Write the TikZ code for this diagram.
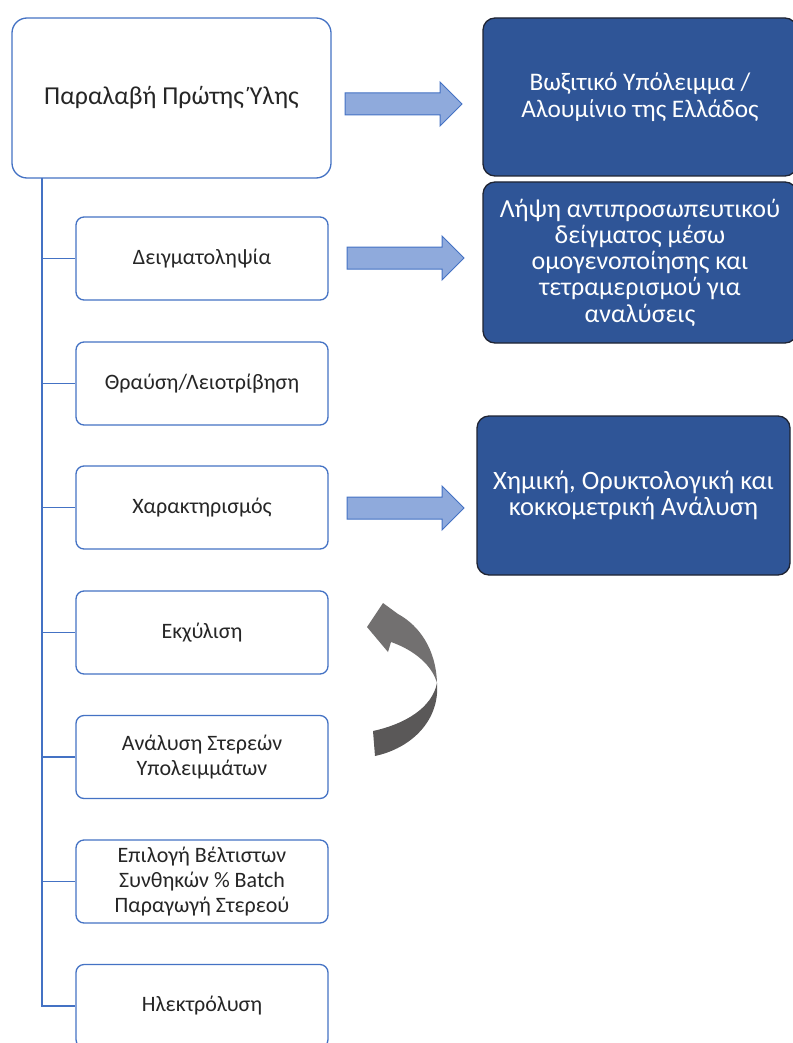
\documentclass[tikz,border=0pt]{standalone}
\usepackage{fontspec}
\setmainfont{Carlito}
\usetikzlibrary{calc}
\definecolor{accblue}{HTML}{4472C4}
\definecolor{arrfill}{HTML}{8FAADC}
\definecolor{darkbox}{HTML}{2F5597}
\definecolor{darkedge}{HTML}{1F2433}
\definecolor{txt}{HTML}{262626}
\definecolor{curvedark}{HTML}{5A5858}
\definecolor{curvelight}{HTML}{727070}
\tikzset{
  mainbox/.style={draw=accblue, line width=1.3pt, fill=white, rounded corners=15pt,
    minimum width=319pt, minimum height=160pt, align=center, text=txt,
    font=\fontsize{25.8}{30}\selectfont, inner sep=0pt},
  childbox/.style={draw=accblue, line width=1.3pt, fill=white, rounded corners=8pt,
    minimum width=252pt, minimum height=83pt, align=center, text=txt,
    font=\fontsize{22}{25}\selectfont, inner sep=0pt},
  darkbox/.style={draw=darkedge, line width=1.3pt, fill=darkbox, rounded corners=12pt,
    align=center, text=white, font=\fontsize{26}{26.3}\selectfont, inner sep=0pt},
  tree/.style={draw=accblue, line width=1.8pt},
  blockarr/.style={draw=accblue, line width=1pt, fill=arrfill, line join=miter},
}
\newcommand{\blockarrow}[2]{%
  \path[blockarr] (#1,#2-11) -- (#1+95,#2-11) -- (#1+95,#2-22) -- (#1+117,#2)
    -- (#1+95,#2+22) -- (#1+95,#2+11) -- (#1,#2+11) -- cycle;}
\begin{document}
\begin{tikzpicture}[x=1pt,y=-1pt]
\useasboundingbox (0,0) rectangle (792,1043);
\fill[white] (0,0) rectangle (792,1043);

% tree trunk
\coordinate (trunktop) at (42,178);
\coordinate (trunkbot) at (42,1007);

\node[mainbox] (main) at (171.5,98) {Παραλαβή Πρώτης Ύλης};

\node[childbox] (c1) at (202,258.5) {Δειγματοληψία};
\node[childbox] (c2) at (202,383.5) {Θραύση/Λειοτρίβηση};
\node[childbox] (c3) at (202,507.5) {Χαρακτηρισμός};
\node[childbox] (c4) at (202,632.5) {Εκχύλιση};
\node[childbox] (c5) at (202,757) {Ανάλυση Στερεών\\Υπολειμμάτων};
\node[childbox] (c6) at (202,881.5) {Επιλογή Βέλτιστων\\Συνθηκών \% Batch\\Παραγωγή Στερεού};
\node[childbox] (c7) at (202,1006) {Ηλεκτρόλυση};

\draw[tree] (trunktop) -- (trunkbot);
\foreach \c in {c1,c2,c3,c4,c5,c6,c7}{
  \draw[tree] (\c.west -| trunktop) -- (\c.west);
}

\node[darkbox, minimum width=314pt, minimum height=158pt,
  font=\fontsize{25.3}{27}\selectfont] (r1) at (640,97)
  {Βωξιτικό Υπόλειμμα /\\Αλουμίνιο της Ελλάδος};
\node[darkbox, minimum width=314pt, minimum height=161pt] (r2) at (640,262.5)
  {Λήψη αντιπροσωπευτικού\\δείγματος μέσω\\ομογενοποίησης και\\τετραμερισμού για\\αναλύσεις};
\node[darkbox, minimum width=313pt, minimum height=159pt,
  font=\fontsize{26.5}{25.5}\selectfont] (r3) at (633.5,495.5)
  {Χημική, Ορυκτολογική και\\κοκκομετρική Ανάλυση};

\blockarrow{345}{104}
\blockarrow{347}{258}
\blockarrow{347}{508}

% curved arrow
\fill[curvedark] (437,683) .. controls (440,720) and (412,748) .. (375,756)
  -- (373,731) .. controls (405,724) and (432,708) .. (437,683) -- cycle;
\fill[curvelight] (437,683) .. controls (436,650) and (420,626) .. (398,614)
  -- (383,603) -- (367,627) -- (388,652) -- (391,642)
  .. controls (414,650) and (432,665) .. (437,683) -- cycle;
\end{tikzpicture}
\end{document}
